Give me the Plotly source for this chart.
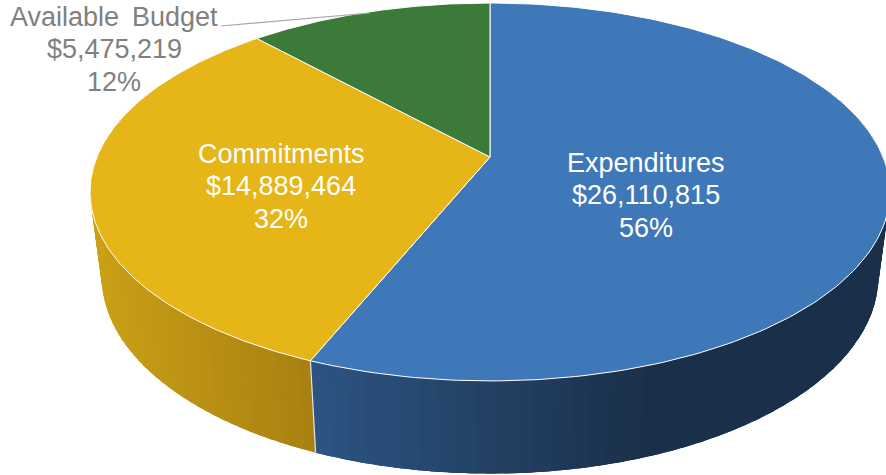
import numpy as np
import plotly.graph_objects as go

categories = ["Expenditures", "Commitments", "Available Budget"]
amounts = [26110815, 14889464, 5475219]
top_colors = ["#3F78B8", "#E6B517", "#3C7A3A"]
wall_start_colors = [(44, 84, 130), (168, 128, 16), (60, 100, 50)]
wall_end_colors = [(26, 48, 74), (202, 160, 22), (60, 100, 50)]

W, H = 886, 475
CX, CY = 490.0, 157.0
A, B, K = 393.0, -153.44, 0.185
total = sum(amounts)
fractions = np.cumsum([0] + amounts) / total


def top_xy(f):
    t = 2 * np.pi * np.asarray(f)
    u, v = np.sin(t), np.cos(t)
    d = 1 + K * v
    return CX + A * u / d, (CY + B * v) / d


def bottom_xy(f):
    x, y = top_xy(f)
    return CX + (x - CX) * 0.971, y * 1.042 + 76.7


def hexrgb(c):
    return "rgb(%d,%d,%d)" % tuple(int(round(v)) for v in c)


fig = go.Figure()


def poly(x, y, fill, line, width):
    fig.add_trace(go.Scatter(x=list(x), y=list(y), mode="lines", fill="toself",
                             fillcolor=fill, line=dict(color=line, width=width),
                             hoverinfo="skip", showlegend=False))


def wall_color(i, xmid):
    if i == 0:
        s = min(max((xmid - 311) / (650 - 311), 0), 1)
    else:
        s = min(max((311 - xmid) / (311 - 93), 0), 1)
    a, b = wall_start_colors[i], wall_end_colors[i]
    return hexrgb([a[k] + (b[k] - a[k]) * s for k in range(3)])


# Walls: thin strips that overlap the next one, so no seams show
for i in range(2):
    lo = max(fractions[i], 0.18)
    hi = min(fractions[i + 1], 0.82)
    edges = np.linspace(lo, hi, 61)
    step = edges[1] - edges[0]
    for f0 in edges[:-1]:
        f1 = min(f0 + 2.5 * step, hi)
        fs = np.linspace(f0, f1, 5)
        xt, yt = top_xy(fs)
        xb, yb = bottom_xy(fs[::-1])
        c = wall_color(i, float(top_xy(f0 + step / 2)[0]))
        poly([*xt, *xb, xt[0]], [*yt, *yb, yt[0]], c, c, 0)

# Seam between the two visible walls
sx0, sy0 = top_xy(fractions[1])
sx1, sy1 = bottom_xy(fractions[1])
fig.add_trace(go.Scatter(x=[sx0, sx1], y=[sy0, sy1], mode="lines",
                         line=dict(color="#E4E4E4", width=1.2),
                         hoverinfo="skip", showlegend=False))

# Top faces
for i in range(3):
    fs = np.linspace(fractions[i], fractions[i + 1], 200)
    x, y = top_xy(fs)
    poly([CX, *x, CX], [CY, *y, CY], top_colors[i], "#FFFFFF", 1)

# Leader line
fig.add_trace(go.Scatter(x=[221, 370], y=[26, 13], mode="lines",
                         line=dict(color="#A6A6A6", width=1.2),
                         hoverinfo="skip", showlegend=False))

label_centers = [(646, 163), (281, 154), (114, 17)]
label_colors = ["#FFFFFF", "#FFFFFF", "#808080"]
for i, cat in enumerate(categories):
    lines = [cat.replace(" ", "\u00a0\u2009"), f"${amounts[i]:,}", f"{round(100 * amounts[i] / total)}%"]
    for j, txt in enumerate(lines):
        fig.add_annotation(x=label_centers[i][0], y=label_centers[i][1] + j * 32.3, text=txt,
                           showarrow=False, xanchor="center", yanchor="middle",
                           font=dict(family="Liberation Sans", size=27, color=label_colors[i]))

fig.update_xaxes(range=[0, W], visible=False, fixedrange=True)
fig.update_yaxes(range=[H, 0], visible=False, fixedrange=True)
fig.update_layout(width=W, height=H, margin=dict(l=0, r=0, t=0, b=0),
                  plot_bgcolor="white", paper_bgcolor="white", showlegend=False)
fig.write_html("out.html", config={"displayModeBar": False},
               post_script="document.body.style.margin='0';document.documentElement.style.overflow='hidden';")
